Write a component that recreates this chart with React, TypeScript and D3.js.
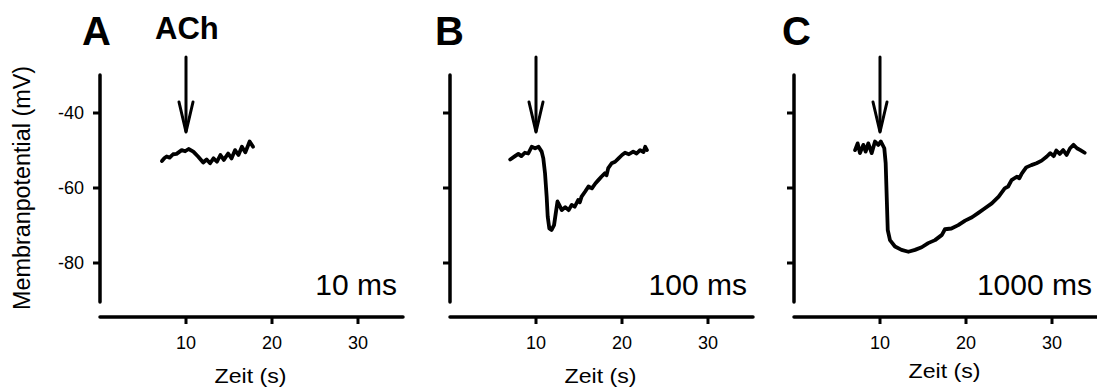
import React from "react";
import * as d3 from "d3";

const panelLetters = ["A", "B", "C"];
const durationLabels = ["10 ms", "100 ms", "1000 ms"];
const xTicks = [10, 20, 30];
const yTicks = [-40, -60, -80];
const yTickLabels = ["-40", "-60", "-80"];
const stimTime = 10;

const timeA = [7.2, 7.5, 7.75, 8.1, 8.5, 8.9, 9.5, 9.9, 10.3, 10.85, 11.4, 12.0, 12.4, 12.8, 13.2, 13.6, 14.0, 14.4, 14.9, 15.3, 15.7, 16.1, 16.5, 16.9, 17.4, 17.8];
const valueA = [-52.8, -52.0, -51.6, -51.9, -51.0, -50.9, -49.9, -50.2, -49.6, -50.3, -51.6, -53.2, -52.4, -53.4, -52.1, -53.0, -51.2, -52.5, -50.8, -52.1, -49.9, -51.2, -49.0, -50.5, -47.6, -49.0];

const timeB = [7.0, 7.56, 7.95, 8.3, 8.7, 9.1, 9.5, 9.9, 10.3, 10.66, 10.85, 11.05, 11.24, 11.36, 11.55, 11.8, 12.1, 12.3, 12.5, 12.7, 13.0, 13.4, 13.8, 14.15, 14.5, 14.9, 15.1, 15.3, 15.7, 16.1, 16.5, 16.9, 17.25, 17.6, 18.0, 18.2, 18.4, 18.8, 19.2, 19.6, 20.0, 20.35, 20.8, 21.3, 21.7, 22.1, 22.5, 22.7, 22.9];
const valueB = [-52.4, -51.5, -50.9, -51.5, -50.6, -50.8, -49.0, -49.4, -49.0, -50.3, -52.1, -56.1, -62.3, -67.6, -70.8, -71.2, -69.9, -66.7, -63.6, -64.5, -65.9, -65.1, -65.9, -64.5, -65.0, -63.2, -63.8, -62.3, -61.0, -59.6, -60.1, -58.8, -57.9, -57.0, -56.1, -56.6, -54.7, -53.4, -53.0, -52.1, -51.2, -50.6, -51.0, -50.3, -50.8, -49.9, -50.4, -49.0, -49.9];

const timeC = [7.1, 7.4, 7.67, 8.06, 8.33, 8.64, 9.03, 9.42, 9.8, 10.1, 10.5, 10.66, 10.78, 10.9, 11.16, 11.74, 12.5, 13.3, 14.07, 14.85, 15.6, 16.4, 17.2, 17.55, 18.3, 19.1, 19.9, 20.7, 21.4, 22.2, 23.0, 23.8, 24.5, 24.9, 25.3, 25.9, 26.2, 26.5, 27.0, 27.6, 28.2, 28.8, 29.4, 29.8, 30.2, 30.5, 30.9, 31.3, 31.7, 32.1, 32.5, 32.9, 33.3, 33.8];
const valueC = [-49.9, -48.1, -50.7, -48.5, -50.3, -48.1, -50.7, -47.6, -48.5, -47.6, -49.4, -53.4, -62.3, -71.2, -73.9, -75.6, -76.5, -77.0, -76.5, -75.8, -74.7, -73.9, -72.5, -71.0, -70.8, -69.9, -68.7, -67.8, -66.7, -65.4, -64.1, -62.3, -60.1, -59.6, -57.9, -57.0, -57.4, -56.1, -54.5, -53.9, -53.4, -52.7, -51.6, -50.7, -51.5, -50.0, -50.9, -49.9, -51.2, -49.4, -48.5, -49.4, -49.9, -50.6];

const traces = [
  { t: timeA, v: valueA },
  { t: timeB, v: valueB },
  { t: timeC, v: valueC },
];

const W = 1097;
const H = 392;
const panelLeft = [100, 450, 794];
const panelWidth = 301;
const xAxisY = 317;
const FONT = "Arial, 'Liberation Sans', Helvetica, sans-serif";

const yScale = d3.scaleLinear().domain([-90, -30]).range([300.5, 75.5]);

export default function App() {
  return (
    <div style={{ position: "absolute", left: 0, top: 0 }}>
      <svg width={W} height={H} style={{ display: "block", background: "#fff" }} fontFamily={FONT}>
        <text
          transform={`translate(30,188) rotate(-90)`}
          textAnchor="middle"
          fontSize={23}
          textLength={244}
          lengthAdjust="spacingAndGlyphs"
        >
          Membranpotential (mV)
        </text>
        <text x={155} y={39} fontSize={31} fontWeight="bold">ACh</text>
        {traces.map((tr, i) => {
          const x0 = panelLeft[i];
          const xScale = d3.scaleLinear().domain([0, 35]).range([x0, x0 + panelWidth]);
          const pts: [number, number][] = tr.t.map((t, k) => [t, tr.v[k]]);
          const line = d3
            .line<[number, number]>()
            .x((d) => xScale(d[0]))
            .y((d) => yScale(d[1]));
          const ax = xScale(stimTime);
          const yTop = yScale(-30);
          const yBot = yScale(-90);
          return (
            <g key={i}>
              <text x={[82, 435, 782][i]} y={45} fontSize={40} fontWeight="bold">
                {panelLetters[i]}
              </text>
              <line x1={x0} x2={x0} y1={yTop - 0.5} y2={yBot + 1.5} stroke="#000" strokeWidth={3.5} strokeLinecap="round" />
              {yTicks.map((yt, k) => (
                <g key={k}>
                  <line x1={x0 - 7} x2={x0} y1={yScale(yt)} y2={yScale(yt)} stroke="#000" strokeWidth={3} />
                  {i === 0 && (
                    <text x={x0 - 16} y={yScale(yt) + 6} fontSize={18} textAnchor="end">
                      {yTickLabels[k]}
                    </text>
                  )}
                </g>
              ))}
              <line x1={x0} x2={x0 + panelWidth + 2} y1={xAxisY} y2={xAxisY} stroke="#000" strokeWidth={3.5} strokeLinecap="round" />
              {xTicks.map((xt) => (
                <g key={xt}>
                  <line x1={xScale(xt)} x2={xScale(xt)} y1={xAxisY} y2={xAxisY + 7} stroke="#000" strokeWidth={3} />
                  <text x={xScale(xt)} y={349} fontSize={18} textAnchor="middle">
                    {xt}
                  </text>
                </g>
              ))}
              <text
                x={x0 + panelWidth / 2}
                y={i === 2 ? 378 : 383}
                fontSize={20}
                textAnchor="middle"
                textLength={72}
                lengthAdjust="spacingAndGlyphs"
              >
                Zeit (s)
              </text>
              <line x1={ax} x2={ax} y1={57} y2={131} stroke="#000" strokeWidth={3} strokeLinecap="round" />
              <polyline
                points={`${ax - 7},${102} ${ax},${132} ${ax + 7},${102}`}
                fill="none"
                stroke="#000"
                strokeWidth={3}
                strokeLinecap="round"
                strokeLinejoin="round"
              />
              <path d={line(pts) || ""} fill="none" stroke="#000" strokeWidth={3.8} strokeLinejoin="round" strokeLinecap="round" />
              <text x={[397, 747, 1092][i]} y={295} fontSize={30} textAnchor="end">
                {durationLabels[i]}
              </text>
            </g>
          );
        })}
      </svg>
    </div>
  );
}
